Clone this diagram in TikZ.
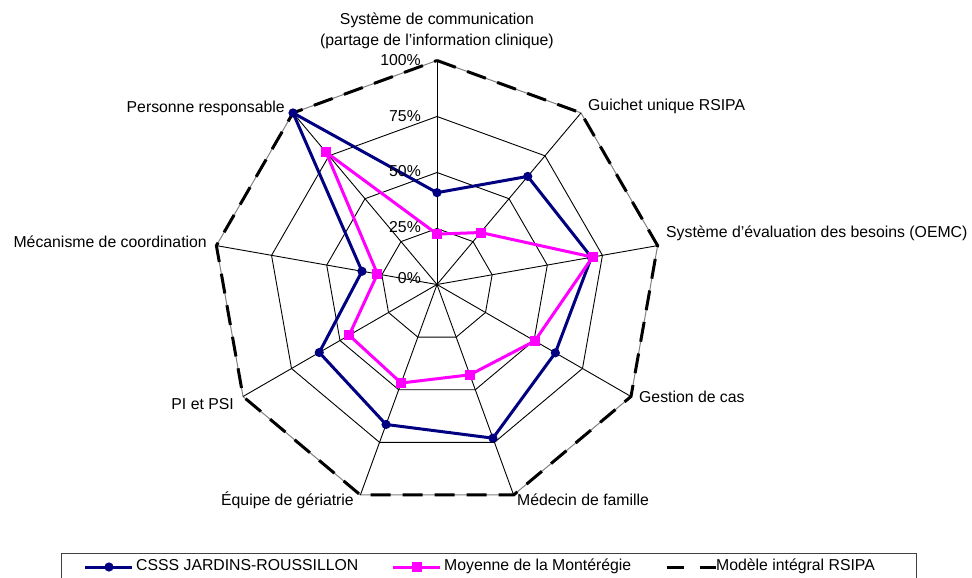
\documentclass[tikz,border=0pt]{standalone}
\usepackage{fontspec}
\setmainfont{Liberation Sans}
\usetikzlibrary{calc}
\definecolor{navyc}{RGB}{0,0,128}
\definecolor{magc}{RGB}{255,0,255}
\begin{document}
\begin{tikzpicture}[x=1pt,y=1pt,
  gridline/.style={black, line width=0.9pt},
  lbl/.style={font=\fontsize{15.8}{21}\selectfont, inner sep=0pt, text height=1.5ex, text depth=0.25ex},
  serieA/.style={navyc, line width=3pt, line join=round},
  serieB/.style={magc, line width=3pt, line join=round},
  modele/.style={black, line width=3pt, dash pattern=on 20pt off 12pt}]
\useasboundingbox (0,0) rectangle (972,-578);
\coordinate (O) at (437,-284.5);
\def\R{224}
% grid coordinates
\foreach \k in {0,...,8}{
  \foreach \f/\n in {0.25/ga,0.5/gb,0.75/gc,1/gd}{
    \coordinate (\n\k) at ($(O)+({90-40*\k}:{\f*\R})$);
  }
}
% rings and axes
\foreach \n in {ga,gb,gc}{
  \draw[gridline] (\n0) \foreach \k in {1,...,8}{-- (\n\k)} -- cycle;
}
\draw[gray, line width=1pt] (gd0) \foreach \k in {1,...,8}{-- (gd\k)} -- cycle;
\foreach \k in {0,...,8}{ \draw[gridline] (O) -- (gd\k); }
% model (100%)
\draw[modele] (gd0) \foreach \k in {1,...,8}{-- (gd\k)} -- cycle;
% series A: CSSS
\foreach \k/\v in {0/0.41,1/0.63,2/0.70,3/0.61,4/0.73,5/0.665,6/0.607,7/0.34,8/1.0}{
  \coordinate (pa\k) at ($(O)+({90-40*\k}:{\v*\R})$);
}
\draw[serieA] (pa0) \foreach \k in {1,...,8}{-- (pa\k)} -- cycle;
\foreach \k in {0,...,8}{ \fill[navyc] (pa\k) circle (4.6); }
% series B: Moyenne
\foreach \k/\v in {0/0.225,1/0.303,2/0.705,3/0.504,4/0.429,5/0.468,6/0.453,7/0.27,8/0.771}{
  \coordinate (pb\k) at ($(O)+({90-40*\k}:{\v*\R})$);
}
\draw[serieB] (pb0) \foreach \k in {1,...,8}{-- (pb\k)} -- cycle;
\foreach \k in {0,...,8}{ \fill[magc] ($(pb\k)+(-5,-5)$) rectangle ++(10,10); }
% percent labels
\node[lbl, anchor=east] (p100) at (421,-62) {100\%};
\node[lbl, anchor=east] (p75) at (421,-118) {75\%};
\node[lbl, anchor=east] (p50) at (421,-173) {50\%};
\node[lbl, anchor=east] (p25) at (421,-229) {25\%};
\node[lbl, anchor=east] (p0) at (421,-280) {0\%};
% axis labels
\node[font=\fontsize{15.8}{21}\selectfont, inner sep=0pt, align=center] (l0) at (437,-30.5) {Système de communication\\(partage de l’information clinique)};
\node[lbl, anchor=west] (l1) at (588,-107) {Guichet unique RSIPA};
\node[lbl, anchor=west] (l2) at (666,-234) {Système d’évaluation des besoins (OEMC)};
\node[lbl, anchor=west] (l3) at (639,-399) {Gestion de cas};
\node[lbl, anchor=west] (l4) at (517,-502) {Médecin de famille};
\node[lbl, anchor=east] (l5) at (354,-502) {Équipe de gériatrie};
\node[lbl, anchor=east] (l6) at (234,-406) {PI et PSI};
\node[lbl, anchor=east] (l7) at (207,-244) {Mécanisme de coordination};
\node[lbl, anchor=east] (l8) at (285,-109) {Personne responsable};
% legend
\draw[black!75, line width=1pt] (61.5,-578) -- (61.5,-553) -- (916,-553) -- (916,-578);
\coordinate (la1) at (85,-567); \coordinate (la2) at (131.5,-567);
\draw[serieA] (la1) -- (la2);
\fill[navyc] (109,-567) circle (4.6);
\node[lbl, anchor=west] (ta) at (136,-567) {CSSS JARDINS-ROUSSILLON};
\coordinate (lb1) at (393,-567); \coordinate (lb2) at (440,-567);
\draw[serieB] (lb1) -- (lb2);
\fill[magc] (411.5,-572) rectangle ++(10,10);
\node[lbl, anchor=west] (tb) at (444,-567) {Moyenne de la Montérégie};
\coordinate (lc1) at (666.5,-567); \coordinate (lc2) at (684,-567);
\coordinate (lc3) at (700,-567); \coordinate (lc4) at (715.5,-567);
\draw[black, line width=3pt] (lc1) -- (lc2);
\draw[black, line width=3pt] (lc3) -- (lc4);
\node[lbl, anchor=west] (tc) at (716,-567) {Modèle intégral RSIPA};
\end{tikzpicture}
\end{document}
